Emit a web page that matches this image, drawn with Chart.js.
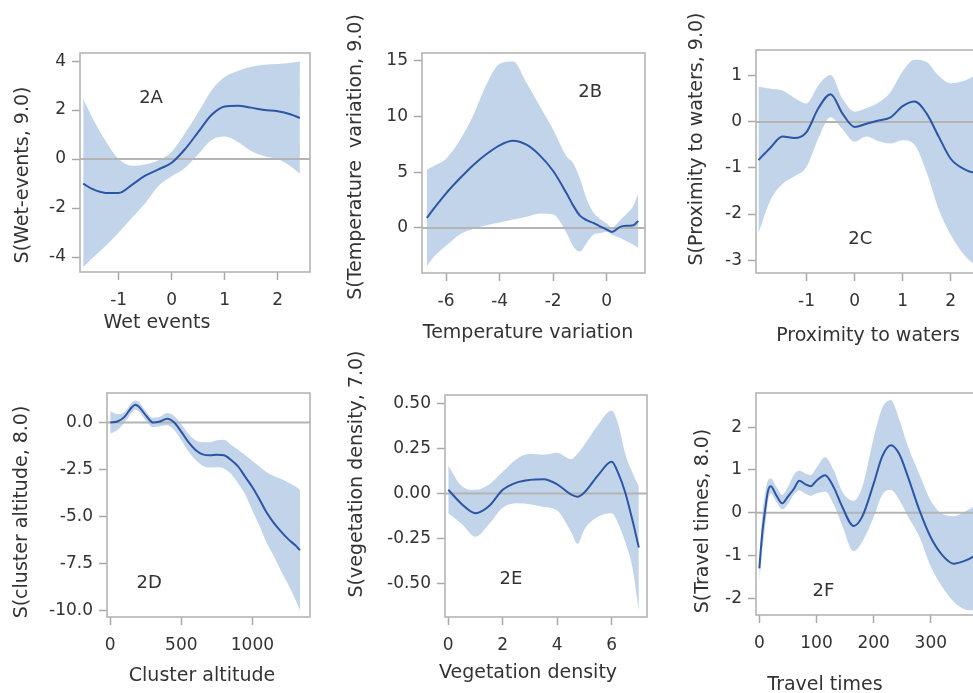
<!DOCTYPE html>
<html>
<head>
<meta charset="utf-8">
<script src="https://cdn.jsdelivr.net/npm/chart.js@4.4.0/dist/chart.umd.min.js"></script>
<style>
  html, body { margin: 0; padding: 0; background: #fff; }
  #wrap { position: relative; width: 973px; height: 693px; overflow: hidden; }
  #wrap canvas { position: absolute; }
</style>
</head>
<body>
<div id="wrap"></div>
<script>
// 2A wet events
const wetX   = [-1.67, -1.5, -1.25, -1.0, -0.75, -0.5, -0.25, 0, 0.25, 0.5, 0.75, 1.0, 1.25, 1.5, 1.75, 2.0, 2.25, 2.42];
const wetFit = [-1.0, -1.22, -1.38, -1.38, -1.05, -0.68, -0.42, -0.15, 0.4, 1.1, 1.8, 2.15, 2.18, 2.1, 2.0, 1.95, 1.82, 1.68];
const wetHi  = [2.45, 1.7, 0.75, 0.0, -0.27, -0.22, -0.05, 0.3, 1.05, 1.9, 2.8, 3.35, 3.6, 3.77, 3.85, 3.88, 3.93, 3.98];
const wetLo  = [-4.42, -4.05, -3.55, -3.0, -2.4, -1.8, -1.1, -0.7, -0.36, 0.2, 0.77, 0.92, 0.7, 0.33, 0.12, 0.0, -0.3, -0.6];

// 2B temperature variation
const tempX   = [-6.72, -6.5, -6, -5.5, -5, -4.5, -4, -3.5, -3, -2.5, -2, -1.5, -1.25, -1, -0.75, -0.5, -0.25, 0, 0.2, 0.5, 0.8, 1.0, 1.18];
const tempFit = [0.9, 1.6, 3.1, 4.4, 5.6, 6.6, 7.4, 7.8, 7.45, 6.5, 5.1, 3.1, 2.0, 1.1, 0.7, 0.45, 0.15, -0.15, -0.35, 0.1, 0.2, 0.25, 0.63];
const tempHi  = [5.2, 5.5, 6.2, 7.8, 10.0, 12.8, 14.7, 14.9, 13.0, 10.9, 8.8, 6.4, 5.8, 4.4, 2.6, 1.4, 0.8, 0.4, 0.05, 0.7, 1.4, 2.0, 3.1];
const tempLo  = [-3.4, -2.7, -1.6, -0.6, -0.1, 0.25, 0.5, 0.75, 1.0, 1.3, 1.2, -0.45, -1.65, -2.1, -1.35, -0.6, -0.45, -0.35, -0.6, -0.9, -1.25, -1.5, -1.8];

// 2C proximity to waters
const proxX   = [-2.0, -1.75, -1.5, -1.25, -1.0, -0.75, -0.5, -0.25, 0, 0.25, 0.5, 0.75, 1.0, 1.25, 1.5, 1.75, 2.0, 2.25, 2.5, 2.75, 2.9];
const proxFit = [-0.83, -0.56, -0.32, -0.35, -0.22, 0.3, 0.6, 0.18, -0.11, -0.04, 0.03, 0.1, 0.34, 0.44, 0.18, -0.32, -0.8, -1.01, -1.1, -1.1, -1.08];
const proxHi  = [0.76, 0.72, 0.68, 0.52, 0.4, 0.8, 1.02, 0.5, 0.22, 0.3, 0.42, 0.65, 1.1, 1.35, 1.3, 1.0, 0.84, 0.88, 1.0, 1.1, 1.15];
const proxLo  = [-2.42, -1.7, -1.35, -1.18, -0.98, -0.35, 0.1, -0.16, -0.43, -0.32, -0.42, -0.47, -0.4, -0.5, -1.1, -1.9, -2.45, -2.85, -3.1, -3.25, -3.3];

// 2D cluster altitude
const altX   = [0, 50, 100, 150, 175, 200, 250, 300, 350, 400, 450, 500, 550, 600, 650, 700, 750, 800, 850, 900, 950, 1000, 1050, 1100, 1150, 1200, 1250, 1300, 1335];
const altFit = [0.0, 0.05, 0.3, 0.8, 0.95, 0.85, 0.38, 0.0, 0.05, 0.2, 0.0, -0.5, -1.05, -1.46, -1.7, -1.75, -1.72, -1.75, -2.0, -2.35, -2.9, -3.45, -4.1, -4.8, -5.35, -5.8, -6.2, -6.53, -6.8];
const altHi  = [0.6, 0.45, 0.55, 1.05, 1.17, 1.1, 0.6, 0.25, 0.3, 0.5, 0.35, -0.1, -0.6, -0.95, -1.05, -1.05, -0.95, -0.92, -1.2, -1.45, -1.75, -2.05, -2.35, -2.65, -2.85, -3.0, -3.2, -3.4, -3.6];
const altLo  = [-0.6, -0.4, 0.0, 0.5, 0.68, 0.6, 0.1, -0.25, -0.2, -0.15, -0.4, -0.95, -1.55, -2.0, -2.3, -2.4, -2.38, -2.45, -2.75, -3.25, -3.85, -4.7, -5.5, -6.4, -7.1, -7.9, -8.6, -9.4, -10.0];

// 2E vegetation density
const vegX   = [0, 0.5, 1, 1.5, 2, 2.5, 3, 3.5, 4, 4.5, 4.75, 5, 5.5, 6, 6.25, 6.5, 6.75, 7];
const vegFit = [0.02, -0.06, -0.11, -0.07, 0.02, 0.06, 0.075, 0.078, 0.05, -0.005, -0.018, 0.005, 0.1, 0.175, 0.11, 0.005, -0.14, -0.3];
const vegHi  = [0.155, 0.04, 0.02, 0.05, 0.12, 0.19, 0.22, 0.215, 0.225, 0.19, 0.22, 0.27, 0.38, 0.46, 0.38, 0.22, 0.12, 0.04];
const vegLo  = [-0.11, -0.17, -0.24, -0.17, -0.08, -0.055, -0.06, -0.075, -0.095, -0.21, -0.28, -0.2, -0.13, -0.11, -0.17, -0.27, -0.4, -0.65];

// 2F travel times
const travX   = [0, 5, 10, 15, 20, 30, 40, 50, 60, 70, 80, 90, 100, 115, 130, 145, 165, 180, 200, 215, 230, 245, 260, 280, 300, 320, 340, 360, 375, 390];
const travFit = [-1.3, -0.5, 0.05, 0.5, 0.62, 0.4, 0.22, 0.38, 0.55, 0.75, 0.67, 0.62, 0.75, 0.88, 0.6, 0.14, -0.31, -0.09, 0.68, 1.32, 1.58, 1.37, 0.84, 0.06, -0.58, -0.99, -1.19, -1.12, -1.02, -0.85];
const travHi  = [-1.1, -0.1, 0.45, 0.75, 0.8, 0.6, 0.42, 0.6, 0.88, 0.98, 0.92, 0.88, 1.05, 1.3, 1.0, 0.5, 0.28, 0.6, 1.75, 2.45, 2.63, 2.17, 1.55, 0.9, 0.28, -0.03, -0.08, 0.03, 0.15, 0.35];
const travLo  = [-1.6, -0.9, -0.35, 0.25, 0.45, 0.25, 0.08, 0.2, 0.42, 0.52, 0.45, 0.4, 0.45, 0.5, 0.2, -0.3, -0.9, -0.68, -0.1, 0.42, 0.53, 0.3, -0.09, -0.56, -1.26, -1.73, -2.08, -2.26, -2.28, -2.2];

// tick labels
const wetTicksX = [-1, 0, 1, 2],        wetTicksY = [-4, -2, 0, 2, 4];
const tempTicksX = [-6, -4, -2, 0],     tempTicksY = [0, 5, 10, 15];
const proxTicksX = [-1, 0, 1, 2],       proxTicksY = [-3, -2, -1, 0, 1];
const altTicksX = [0, 500, 1000],       altTicksY = [-10, -7.5, -5, -2.5, 0];
const vegTicksX = [0, 2, 4, 6],         vegTicksY = [-0.5, -0.25, 0, 0.25, 0.5];
const travTicksX = [0, 100, 200, 300],  travTicksY = [-2, -1, 0, 1, 2];

const FONT = "'DejaVu Sans', sans-serif";
const BAND = '#c1d4ea', LINE = '#2c55a6', ZERO = '#b4b4b4', FRAME = '#b5b5b5', TICK = '#a8a8a8', INK = '#333333';
const YW = 70, XH = 50;   // fixed axis sizes so the plot boxes land where the reference has them

// canvas = [left, top, width, height], box = plot area [l, t, r, b] in page px
const PANELS = [
  { xs: wetX, fit: wetFit, hi: wetHi, lo: wetLo, canvas: [0, 0, 340, 350], box: [80, 53, 310, 272],
    x: { min: -1.73, max: 2.61, ticks: wetTicksX, dec: 0 }, y: { min: -4.61, max: 4.33, ticks: wetTicksY, dec: 0 },
    xTitle: 'Wet events', xAt: [157, 328], yTitle: 'S(Wet-events, 9.0)', yAt: [23, 175], tag: '2A', tagAt: [-0.39, 2.5] },
  { xs: tempX, fit: tempFit, hi: tempHi, lo: tempLo, canvas: [340, 0, 320, 350], box: [422, 53, 645, 273],
    x: { min: -6.9, max: 1.43, ticks: tempTicksX, dec: 0 }, y: { min: -4.03, max: 15.66, ticks: tempTicksY, dec: 0 },
    xTitle: 'Temperature variation', xAt: [528, 338], yTitle: 'S(Temperature  variation, 9.0)', yAt: [356, 157], tag: '2B', tagAt: [-0.62, 12.1] },
  { xs: proxX, fit: proxFit, hi: proxHi, lo: proxLo, canvas: [660, 0, 350, 350], box: [756, 50, 994, 273],
    x: { min: -2.05, max: 2.9, ticks: proxTicksX, dec: 0 }, y: { min: -3.28, max: 1.56, ticks: proxTicksY, dec: 0 },
    xTitle: 'Proximity to waters', xAt: [868, 341], yTitle: 'S(Proximity to waters, 9.0)', yAt: [697, 139], tag: '2C', tagAt: [0.12, -2.54] },
  { xs: altX, fit: altFit, hi: altHi, lo: altLo, canvas: [0, 350, 340, 343], box: [107, 393, 310, 617],
    x: { min: -23, max: 1405, ticks: altTicksX, dec: 0 }, y: { min: -10.36, max: 1.57, ticks: altTicksY, dec: 1 },
    xTitle: 'Cluster altitude', xAt: [202, 681], yTitle: 'S(cluster altitude, 8.0)', yAt: [22, 512], tag: '2D', tagAt: [274, -8.56] },
  { xs: vegX, fit: vegFit, hi: vegHi, lo: vegLo, canvas: [340, 350, 320, 343], box: [445, 395, 647, 617],
    x: { min: -0.12, max: 7.3, ticks: vegTicksX, dec: 0 }, y: { min: -0.686, max: 0.546, ticks: vegTicksY, dec: 2 },
    xTitle: 'Vegetation density', xAt: [528, 678], yTitle: 'S(vegetation density, 7.0)', yAt: [357, 474], tag: '2E', tagAt: [2.3, -0.476] },
  { xs: travX, fit: travFit, hi: travHi, lo: travLo, canvas: [660, 350, 350, 343], box: [756, 393, 988, 615],
    x: { min: -5.8, max: 400, ticks: travTicksX, dec: 0 }, y: { min: -2.39, max: 2.8, ticks: travTicksY, dec: 0 },
    xTitle: 'Travel times', xAt: [825, 690], yTitle: 'S(Travel times, 8.0)', yAt: [703, 521], tag: '2F', tagAt: [112, -1.83] }
];

// frame, axis titles and panel tag
function textPlugin(p) {
  return {
    id: 'panelText',
    afterDraw(chart) {
      const { ctx, chartArea: a, scales } = chart;
      const ox = p.canvas[0], oy = p.canvas[1];
      ctx.save();
      ctx.strokeStyle = FRAME;
      ctx.lineWidth = 1.6;
      ctx.strokeRect(a.left, a.top, a.right - a.left, a.bottom - a.top);
      ctx.fillStyle = INK;
      ctx.textAlign = 'center';
      ctx.font = '19px ' + FONT;
      ctx.textBaseline = 'alphabetic';
      ctx.fillText(p.xTitle, p.xAt[0] - ox, p.xAt[1] - oy);
      ctx.save();
      ctx.translate(p.yAt[0] - ox, p.yAt[1] - oy);
      ctx.rotate(-Math.PI / 2);
      ctx.textBaseline = 'middle';
      ctx.fillText(p.yTitle, 0, 0);
      ctx.restore();
      ctx.font = '18px ' + FONT;
      ctx.textBaseline = 'middle';
      ctx.fillText(p.tag, scales.x.getPixelForValue(p.tagAt[0]), scales.y.getPixelForValue(p.tagAt[1]));
      ctx.restore();
    }
  };
}

function axis(ax, size) {
  return {
    type: 'linear', min: ax.min, max: ax.max,
    afterBuildTicks: s => { s.ticks = ax.ticks.map(v => ({ value: v })); },
    afterFit: s => { if (s.isHorizontal()) s.height = size; else s.width = size; },
    border: { display: false },
    grid: { drawOnChartArea: false, tickLength: 8, tickColor: TICK, tickWidth: 1.5 },
    ticks: { color: INK, font: { family: FONT, size: 17 }, maxRotation: 0, autoSkip: false,
             callback: v => Number(v).toFixed(ax.dec) }
  };
}

function makePanel(p) {
  const [cx, cy, cw, ch] = p.canvas;
  const [l, t, r, b] = p.box;
  const cv = document.createElement('canvas');
  cv.width = cw; cv.height = ch;
  cv.style.left = cx + 'px'; cv.style.top = cy + 'px';
  cv.style.width = cw + 'px'; cv.style.height = ch + 'px';
  document.getElementById('wrap').appendChild(cv);

  const pts = arr => p.xs.map((x, i) => ({ x: x, y: arr[i] }));
  const xAxis = axis(p.x, XH);
  xAxis.ticks.padding = 10;
  const yAxis = axis(p.y, YW);
  yAxis.ticks.padding = 6;

  return new Chart(cv, {
    type: 'line',
    data: {
      datasets: [
        { data: pts(p.fit), borderColor: LINE, borderWidth: 2, pointRadius: 0, cubicInterpolationMode: 'monotone', fill: false },
        { data: [{ x: p.x.min, y: 0 }, { x: p.x.max, y: 0 }], borderColor: ZERO, borderWidth: 2, pointRadius: 0, fill: false },
        { data: pts(p.hi), borderColor: 'rgba(0,0,0,0)', borderWidth: 0, backgroundColor: BAND, pointRadius: 0, cubicInterpolationMode: 'monotone', fill: '+1' },
        { data: pts(p.lo), borderColor: 'rgba(0,0,0,0)', borderWidth: 0, pointRadius: 0, cubicInterpolationMode: 'monotone', fill: false }
      ]
    },
    options: {
      responsive: false, animation: false, events: [], devicePixelRatio: 1,
      layout: { padding: { left: l - cx - YW, top: t - cy, right: cx + cw - r, bottom: cy + ch - b - XH } },
      plugins: { legend: { display: false }, tooltip: { enabled: false } },
      scales: { x: xAxis, y: yAxis }
    },
    plugins: [textPlugin(p)]
  });
}

PANELS.forEach(makePanel);
</script>
</body>
</html>
